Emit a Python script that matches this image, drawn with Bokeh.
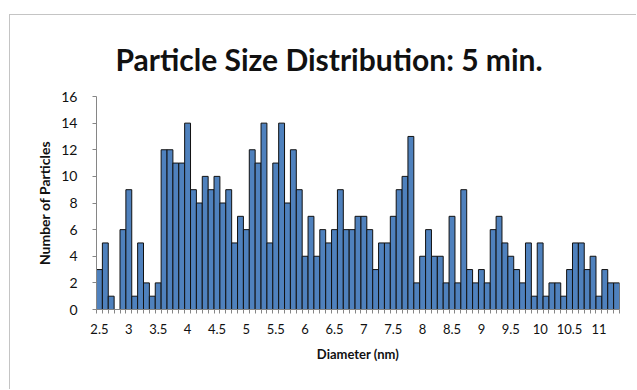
from bokeh.plotting import figure
from bokeh.models import Range1d, FixedTicker, ColumnDataSource
from bokeh.embed import file_html
from bokeh.resources import INLINE

diameters = [2.5, 2.6, 2.7, 2.8, 2.9,
             3.0, 3.1, 3.2, 3.3, 3.4, 3.5, 3.6, 3.7, 3.8, 3.9,
             4.0, 4.1, 4.2, 4.3, 4.4, 4.5, 4.6, 4.7, 4.8, 4.9,
             5.0, 5.1, 5.2, 5.3, 5.4, 5.5, 5.6, 5.7, 5.8, 5.9,
             6.0, 6.1, 6.2, 6.3, 6.4, 6.5, 6.6, 6.7, 6.8, 6.9,
             7.0, 7.1, 7.2, 7.3, 7.4, 7.5, 7.6, 7.7, 7.8, 7.9,
             8.0, 8.1, 8.2, 8.3, 8.4, 8.5, 8.6, 8.7, 8.8, 8.9,
             9.0, 9.1, 9.2, 9.3, 9.4, 9.5, 9.6, 9.7, 9.8, 9.9,
             10.0, 10.1, 10.2, 10.3, 10.4, 10.5, 10.6, 10.7, 10.8, 10.9,
             11.0, 11.1, 11.2, 11.3]

counts = [3, 5, 1, 0, 6,
          9, 1, 5, 2, 1, 2, 12, 12, 11, 11,
          14, 9, 8, 10, 9, 10, 8, 9, 5, 7,
          6, 12, 11, 14, 5, 11, 14, 8, 12, 9,
          4, 7, 4, 6, 5, 6, 9, 6, 6, 7,
          7, 6, 3, 5, 5, 7, 9, 10, 13, 2,
          4, 6, 4, 4, 2, 7, 2, 9, 3, 2,
          3, 2, 6, 7, 5, 4, 3, 2, 5, 1,
          5, 1, 2, 2, 1, 3, 5, 5, 3, 4,
          1, 3, 2, 2]

x_tick_values = [2.5, 3.0, 3.5, 4.0, 4.5, 5.0, 5.5, 6.0, 6.5, 7.0, 7.5,
                 8.0, 8.5, 9.0, 9.5, 10.0, 10.5, 11.0]
x_tick_labels = ["2.5", "3", "3.5", "4", "4.5", "5", "5.5", "6", "6.5", "7", "7.5",
                 "8", "8.5", "9", "9.5", "10", "10.5", "11"]
y_tick_values = [0, 2, 4, 6, 8, 10, 12, 14, 16]

FONT = "Lato"
bin_w = 0.1
boundaries = [round(d - bin_w / 2, 2) for d in diameters] + [round(diameters[-1] + bin_w / 2, 2)]

src = ColumnDataSource(dict(d=diameters, n=counts))

p = figure(width=627, height=375, output_backend="svg", toolbar_location=None,
           x_range=Range1d(boundaries[0], boundaries[-1]), y_range=Range1d(0, 16),
           min_border_left=86, min_border_right=18, min_border_top=81,
           min_border_bottom=81)
p.margin = (14, 0, 0, 9)
p.styles = {"border-top": "1px solid #c4c4c4", "border-left": "1px solid #c4c4c4"}
p.background_fill_color = "white"
p.border_fill_color = "white"
p.outline_line_color = None
p.xgrid.visible = False
p.ygrid.visible = False

p.vbar(x="d", top="n", bottom=0, width=bin_w, source=src,
       fill_color="#4f81bd", line_color="#111111", line_width=1)

p.title.text = "Particle Size Distribution: 5 min."
p.title.text_font = FONT
p.title.text_font_style = "bold"
p.title.text_font_size = "30px"
p.title.text_color = "#111111"
p.title.align = "left"
p.title.offset = 19
p.title.standoff = 40

xa = p.xaxis[0]
xa.ticker = FixedTicker(ticks=x_tick_values, minor_ticks=boundaries)
xa.major_label_overrides = dict(zip(x_tick_values, x_tick_labels))
xa.major_tick_line_color = None
xa.major_tick_out = 0
xa.major_tick_in = 0
xa.minor_tick_out = 4
xa.minor_tick_in = 0
xa.minor_tick_line_color = "#868686"
xa.axis_line_color = "#868686"
xa.major_label_standoff = 10
xa.major_label_text_font = FONT
xa.major_label_text_font_size = "13px"
xa.major_label_text_color = "#111111"
xa.axis_label = "Diameter (nm)"
xa.axis_label_text_font = FONT
xa.axis_label_text_font_style = "bold"
xa.axis_label_text_font_size = "13px"
xa.axis_label_text_color = "#111111"
xa.axis_label_standoff = 9

ya = p.yaxis[0]
ya.ticker = FixedTicker(ticks=y_tick_values)
ya.major_tick_out = 4
ya.major_tick_in = 0
ya.minor_tick_line_color = None
ya.major_tick_line_color = "#868686"
ya.axis_line_color = "#868686"
ya.major_label_standoff = 15
ya.major_label_text_font = FONT
ya.major_label_text_font_size = "14px"
ya.major_label_text_color = "#111111"
ya.axis_label = "Number of Particles"
ya.axis_label_text_font = FONT
ya.axis_label_text_font_style = "bold"
ya.axis_label_text_font_size = "14px"
ya.axis_label_text_color = "#111111"
ya.axis_label_standoff = 5

open("out.html", "w").write(file_html(p, INLINE))
